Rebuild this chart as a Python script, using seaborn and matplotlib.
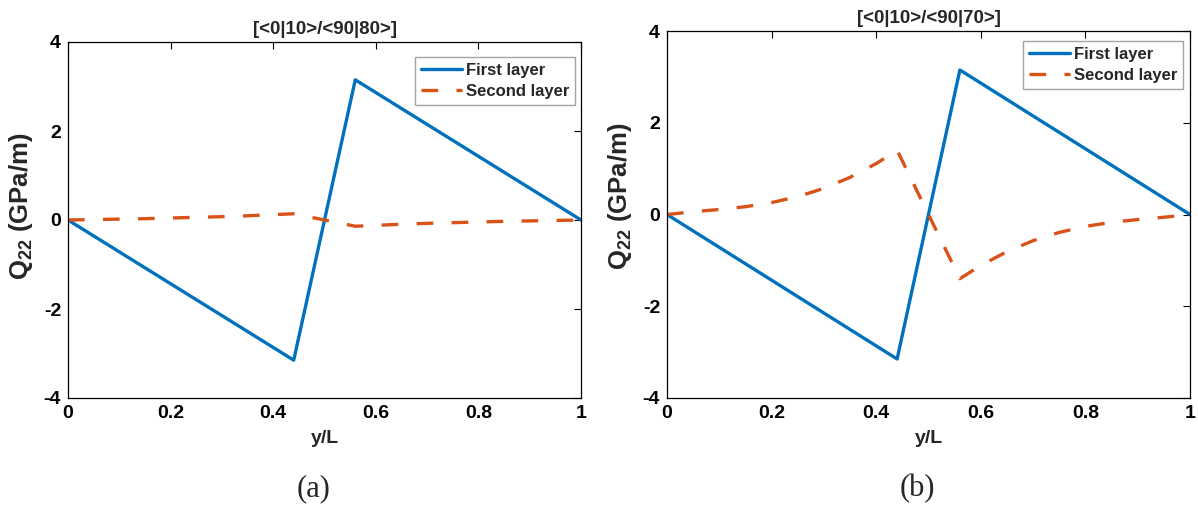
import numpy as np
import pandas as pd
import matplotlib
matplotlib.use("Agg")
import matplotlib.pyplot as plt
import seaborn as sns

# Normalised position along the edge
y_L = [0.0, 0.05, 0.1, 0.15, 0.2, 0.25, 0.3, 0.35, 0.4, 0.44,
       0.56, 0.6, 0.65, 0.7, 0.75, 0.8, 0.85, 0.9, 0.95, 1.0]

# Panel (a): [<0|10>/<90|80>]
first_a = [0.0, -0.358, -0.716, -1.074, -1.432, -1.790, -2.148, -2.506, -2.864, -3.15,
           3.15, 2.864, 2.506, 2.148, 1.790, 1.432, 1.074, 0.716, 0.358, 0.0]
second_a = [0.0, 0.01, 0.02, 0.03, 0.045, 0.06, 0.075, 0.095, 0.12, 0.14,
            -0.14, -0.12, -0.095, -0.075, -0.06, -0.045, -0.03, -0.02, -0.01, 0.0]

# Panel (b): [<0|10>/<90|70>]
first_b = [0.0, -0.358, -0.716, -1.074, -1.432, -1.790, -2.148, -2.506, -2.864, -3.15,
           3.15, 2.864, 2.506, 2.148, 1.790, 1.432, 1.074, 0.716, 0.358, 0.0]
second_b = [0.0, 0.06, 0.11, 0.17, 0.26, 0.39, 0.57, 0.81, 1.11, 1.40,
            -1.40, -1.11, -0.81, -0.57, -0.39, -0.26, -0.17, -0.11, -0.06, 0.0]

titles = ["[<0|10>/<90|80>]", "[<0|10>/<90|70>]"]
captions = ["(a)", "(b)"]
layer_names = ["First layer", "Second layer"]
x_ticks = [0, 0.2, 0.4, 0.6, 0.8, 1]
x_ticklabels = ["0", "0.2", "0.4", "0.6", "0.8", "1"]
y_ticks = [-4, -2, 0, 2, 4]

sns.set_style("white")
plt.rcParams["font.family"] = ["Liberation Sans", "DejaVu Sans"]
plt.rcParams["font.weight"] = "bold"
plt.rcParams["axes.unicode_minus"] = False
plt.rcParams["mathtext.fontset"] = "custom"
plt.rcParams["mathtext.rm"] = "Liberation Sans:bold"
plt.rcParams["mathtext.bf"] = "Liberation Sans:bold"
plt.rcParams["mathtext.it"] = "Liberation Sans:bold"

blue = "#0072BD"
orange = "#D95319"

W, H = 1198, 505
fig = plt.figure(figsize=(W / 100, H / 100), dpi=100)

boxes = [(68, 42, 581, 398), (667, 31, 1190, 398)]
# legend frame's upper-right corner, in pixels
legend_corners = [(575, 57), (1183, 41)]
# anchor of the y label (right edge, vertical centre), in pixels
ylabel_anchors = [(35, 206), (634, 196)]
panels = [(first_a, second_a), (first_b, second_b)]

for i, ((x0, t, x1, b), (first, second)) in enumerate(zip(boxes, panels)):
    ax = fig.add_axes([x0 / W, (H - b) / H, (x1 - x0) / W, (b - t) / H])
    df = pd.DataFrame({"y/L": y_L, "first": first, "second": second})
    sns.lineplot(data=df, x="y/L", y="first", ax=ax, color=blue, lw=2.4,
                 label=layer_names[0])
    sns.lineplot(data=df, x="y/L", y="second", ax=ax, color=orange, lw=2.4,
                 label=layer_names[1])
    ax.lines[1].set_dashes((5, 5.5))
    ax.set_xlim(0, 1)
    ax.set_ylim(-4, 4)
    ax.set_xticks(x_ticks)
    ax.set_xticklabels(x_ticklabels)
    ax.set_yticks(y_ticks)
    ax.tick_params(direction="in", length=5, width=0.8, top=True, right=True,
                   labelsize=14, colors="black", pad=5)
    for lbl in ax.get_xticklabels() + ax.get_yticklabels():
        lbl.set_fontweight("bold")
    for s in ax.spines.values():
        s.set_visible(True)
        s.set_color("black")
        s.set_linewidth(0.9)
    ax.set_xlabel("y/L", fontsize=14, fontweight="bold", labelpad=6)
    ax.set_ylabel(r"Q$_{22}$ (GPa/m)", fontsize=18.5, fontweight="bold")
    px, py = ylabel_anchors[i]
    ax.yaxis.set_label_coords((px - x0) / (x1 - x0), (b - py) / (b - t))
    ax.set_title(titles[i], fontsize=13.5, fontweight="bold", pad=6)
    lx, ly = legend_corners[i]
    leg = ax.legend(loc="upper right",
                    bbox_to_anchor=((lx - x0) / (x1 - x0), (b - ly) / (b - t)),
                    fontsize=12, frameon=True, fancybox=False,
                    handlelength=2.5, handletextpad=0.2, borderpad=0.35,
                    labelspacing=0.35, borderaxespad=0.0)
    leg.get_frame().set_edgecolor("#8c8c8c")
    leg.get_frame().set_linewidth(1.0)
    for txt in leg.get_texts():
        txt.set_fontweight("bold")
    ax.grid(False)
    fig.text(((x0 + x1) / 2 - 11) / W, 1 - 489 / H, captions[i], ha="center", va="center",
             fontsize=22, fontfamily="Liberation Serif", fontweight="normal")

fig.savefig("out.png", dpi=100)
